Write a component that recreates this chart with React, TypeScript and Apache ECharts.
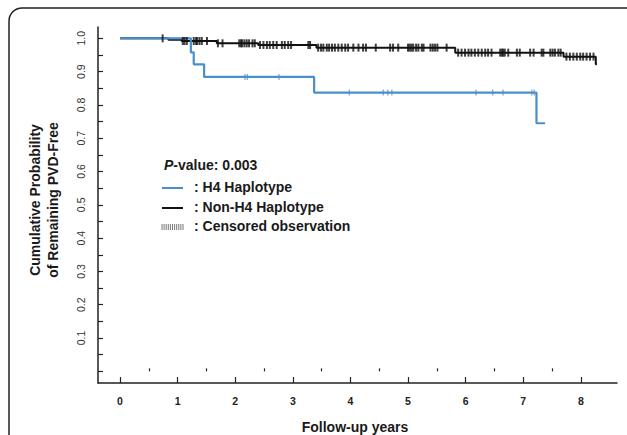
import React, { useEffect, useRef } from "react";
import * as echarts from "echarts";

// ---- data ----
const xTickValues = [0, 1, 2, 3, 4, 5, 6, 7, 8];
const xMinorTickValues = [0.5, 1.5, 2.5, 3.5, 4.5, 5.5, 6.5, 7.5];
const yLabelValues = [0.1, 0.2, 0.3, 0.4, 0.5, 0.6, 0.7, 0.8, 0.9, 1.0];
const yTickValues = [
  0, 0.05, 0.1, 0.15, 0.2, 0.25, 0.3, 0.35, 0.4, 0.45, 0.5, 0.55, 0.6, 0.65,
  0.7, 0.75, 0.8, 0.85, 0.9, 0.95, 1.0,
];

// Kaplan-Meier steps: [time (years), survival after that time]
const h4Steps: [number, number][] = [
  [0, 1.0],
  [1.23, 0.958],
  [1.28, 0.922],
  [1.46, 0.884],
  [3.37, 0.837],
  [7.23, 0.745],
  [7.38, 0.745],
];
const nonH4Steps: [number, number][] = [
  [0, 1.0],
  [0.84, 0.996],
  [1.07, 0.992],
  [1.68, 0.985],
  [2.4, 0.98],
  [3.41, 0.972],
  [5.82, 0.957],
  [7.7, 0.945],
  [8.26, 0.922],
  [8.28, 0.922],
];

// censored observation times (years)
const h4Censored = [2.17, 2.21, 2.76, 3.98, 4.57, 4.65, 4.72, 6.18, 6.47, 6.65, 7.15, 7.19];
const nonH4Censored = [
  0.74, 1.09, 1.12, 1.16, 1.28, 1.32, 1.34, 1.38, 1.42, 1.51, 1.7, 1.78,
  2.07, 2.1, 2.12, 2.16, 2.2, 2.24, 2.3, 2.34, 2.43, 2.49, 2.55, 2.6, 2.66,
  2.72, 2.81, 2.86, 2.92, 2.97, 3.27, 3.3, 3.44, 3.49, 3.53, 3.59, 3.63, 3.68,
  3.73, 3.79, 3.85, 3.91, 3.96, 4.05, 4.14, 4.22, 4.27, 4.44, 4.69, 4.74,
  4.83, 5.0, 5.03, 5.06, 5.09, 5.14, 5.18, 5.24, 5.27, 5.39, 5.43, 5.47,
  5.51, 5.67, 5.87, 5.93, 5.99, 6.05, 6.1, 6.16, 6.22, 6.28, 6.34, 6.39,
  6.45, 6.6, 6.63, 6.65, 6.68, 6.74, 6.89, 6.94, 7.12, 7.18, 7.32, 7.35,
  7.47, 7.51, 7.55, 7.61, 7.65, 7.75, 7.81, 7.87, 7.93, 7.99, 8.04, 8.1,
  8.16, 8.22,
];

const FONT = "'Liberation Sans', Arial, Helvetica, sans-serif";
const BLUE = "#4b8fca";
const BLACK = "#111111";

function levelAt(steps: [number, number][], t: number): number {
  let v = steps[0][1];
  for (const [time, s] of steps) {
    if (time <= t) v = s;
  }
  return v;
}

export default function App() {
  const ref = useRef<HTMLDivElement>(null);

  useEffect(() => {
    if (!ref.current) return;
    const chart = echarts.init(ref.current, undefined, { renderer: "svg" });

    const hatch: any[] = [];
    for (let i = 0; i <= 10; i++) {
      hatch.push({
        type: "line",
        shape: { x1: 162 + i * 2.1, y1: 224, x2: 162 + i * 2.1, y2: 230 },
        style: { stroke: "#555", lineWidth: 0.8 },
        silent: true,
      });
    }

    const legendText = (text: string, y: number) => ({
      type: "text",
      left: 194,
      top: y - 8,
      style: { text, font: `bold 14px ${FONT}`, fill: "#1a1a1a" },
      silent: true,
    });

    chart.setOption({
      animation: false,
      backgroundColor: "#ffffff",
      grid: { left: 98, right: 10, top: 27, bottom: 52, containLabel: false },
      xAxis: [
        {
          type: "value",
          min: -0.382,
          max: 8.628,
          position: "bottom",
          axisLine: { show: true, onZero: false, lineStyle: { color: "#222", width: 1.5 } },
          splitLine: { show: false },
          axisTick: {
            show: true,
            inside: true,
            length: 6,
            customValues: xTickValues,
            lineStyle: { color: "#222", width: 1.2 },
          },
          axisLabel: {
            customValues: xTickValues,
            margin: 12,
            fontSize: 10.5,
            fontWeight: "bold",
            fontFamily: FONT,
            color: "#222",
          },
        },
        {
          type: "value",
          min: -0.382,
          max: 8.628,
          position: "bottom",
          axisLine: { show: false },
          splitLine: { show: false },
          axisTick: {
            show: true,
            inside: true,
            length: 3,
            customValues: xMinorTickValues,
            lineStyle: { color: "#222", width: 1.2 },
          },
          axisLabel: { show: false },
        },
      ],
      yAxis: {
        type: "value",
        min: -0.035,
        max: 1.034,
        axisLine: { show: true, onZero: false, lineStyle: { color: "#222", width: 1.5 } },
        splitLine: { show: false },
        axisTick: {
          show: true,
          inside: true,
          length: 5,
          customValues: yTickValues,
          lineStyle: { color: "#222", width: 1.2 },
        },
        axisLabel: {
          customValues: yLabelValues,
          rotate: 90,
          margin: 12,
          fontSize: 10.5,
          fontFamily: FONT,
          color: "#333",
          formatter: (v: number) => v.toFixed(1),
        },
      },
      series: [
        {
          type: "line",
          name: "Non-H4 Haplotype",
          step: "end",
          data: nonH4Steps,
          symbol: "none",
          lineStyle: { color: BLACK, width: 2 },
          z: 2,
        },
        {
          type: "line",
          name: "H4 Haplotype",
          step: "end",
          data: h4Steps,
          symbol: "none",
          lineStyle: { color: BLUE, width: 2.2 },
          z: 3,
        },
        {
          type: "scatter",
          name: "H4 censored",
          data: h4Censored.map((t) => [t, levelAt(h4Steps, t)]),
          symbol: "rect",
          symbolSize: [1.2, 6],
          itemStyle: { color: BLUE },
          z: 4,
        },
        {
          type: "scatter",
          name: "Non-H4 censored",
          data: nonH4Censored.map((t) => [t, levelAt(nonH4Steps, t)]),
          symbol: "rect",
          symbolSize: [2, 8],
          itemStyle: { color: BLACK },
          z: 5,
        },
      ],
      graphic: [
        {
          type: "rect",
          shape: { x: 9, y: 8, width: 700, height: 500, r: 13 },
          style: { fill: "none", stroke: "#222", lineWidth: 1.5 },
          silent: true,
          z: -1,
        },
        {
          type: "text",
          x: 35,
          y: 200,
          rotation: Math.PI / 2,
          style: {
            text: "Cumulative Probability",
            font: `bold 14px ${FONT}`,
            fill: "#1a1a1a",
            align: "center",
            verticalAlign: "middle",
          },
          silent: true,
        },
        {
          type: "text",
          x: 53,
          y: 200,
          rotation: Math.PI / 2,
          style: {
            text: "of Remaining PVD-Free",
            font: `bold 14px ${FONT}`,
            fill: "#1a1a1a",
            align: "center",
            verticalAlign: "middle",
          },
          silent: true,
        },
        {
          type: "text",
          x: 355,
          y: 427,
          style: {
            text: "Follow-up years",
            font: `bold 14px ${FONT}`,
            fill: "#1a1a1a",
            align: "center",
            verticalAlign: "middle",
          },
          silent: true,
        },
        {
          type: "text",
          left: 164,
          top: 158,
          style: {
            text: "{i|P}-value: 0.003",
            font: `bold 14px ${FONT}`,
            fill: "#1a1a1a",
            rich: {
              i: { fontStyle: "italic", fontWeight: "bold", fontSize: 14, fontFamily: FONT, fill: "#1a1a1a" },
            },
          },
          silent: true,
        },
        {
          type: "line",
          shape: { x1: 162, y1: 188, x2: 183, y2: 188 },
          style: { stroke: BLUE, lineWidth: 2 },
          silent: true,
        },
        legendText(": H4 Haplotype", 188),
        {
          type: "line",
          shape: { x1: 162, y1: 208, x2: 183, y2: 208 },
          style: { stroke: BLACK, lineWidth: 2 },
          silent: true,
        },
        legendText(": Non-H4 Haplotype", 208),
        ...hatch,
        legendText(": Censored observation", 227),
      ],
    });

    return () => chart.dispose();
  }, []);

  return (
    <div
      ref={ref}
      style={{ position: "fixed", left: 0, top: 0, width: 627, height: 435 }}
    />
  );
}
